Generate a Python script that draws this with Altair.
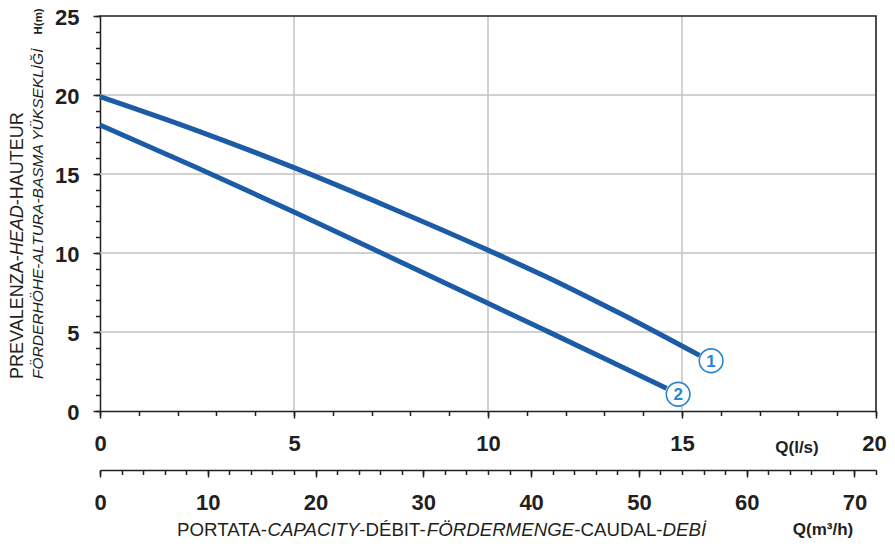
import altair as alt
import pandas as pd

# ---------------- data ----------------
curve1_q = [0, 2.5, 5, 7.5, 10, 11.5, 12.5, 13.5, 15.45]
curve1_h = [19.9, 17.75, 15.4, 12.85, 10.18, 8.5, 7.3, 6.06, 3.52]
curve2_q = [0, 2.5, 5, 7.5, 10, 11.5, 13, 14.6]
curve2_h = [18.1, 15.4, 12.6, 9.72, 6.82, 5.08, 3.33, 1.44]

tag_names = ["1", "2"]
tag_q = [15.75, 14.9]
tag_h = [3.18, 1.06]

ls_major = [0, 5, 10, 15, 20]
ls_minor = list(range(0, 21))
m3h_major = [0, 10, 20, 30, 40, 50, 60, 70]
m3h_minor = list(range(0, 73, 2))
h_major = [0, 5, 10, 15, 20, 25]
h_minor = list(range(0, 26))

q_max, h_max, m3h_max = 20, 25, 72

x_title_parts = [("PORTATA-", "normal"), ("CAPACITY", "italic"), ("-DÉBIT-", "normal"),
                 ("FÖRDERMENGE", "italic"), ("-CAUDAL-", "normal"), ("DEBİ", "italic")]
y_title1_parts = [("PREVALENZA-", "normal"), ("HEAD", "italic"), ("-HAUTEUR", "normal")]
y_title2 = "FÖRDERHÖHE-ALTURA-BASMA YÜKSEKLİĞİ"

# ---------------- layout / style ----------------
X0, Y0 = 100, 11          # page position of the view's top-left corner
VW, VH = 784, 400         # view size (a little larger than the plot frame)
PW, PTOP = 776, 5         # plot frame width, and its top inside the view
FONT = "Liberation Sans"
INK = "#231f20"
LINE_BLUE = "#1c5ba6"
TAG_BLUE = "#2b86cc"
GRID = "#c2c2c2"

ARIAL_W = {'A': 667, 'B': 667, 'C': 722, 'D': 722, 'E': 667, 'F': 611, 'G': 778, 'H': 722,
           'I': 278, 'K': 667, 'L': 556, 'M': 833, 'N': 722, 'O': 778, 'P': 667, 'R': 722,
           'S': 667, 'T': 611, 'U': 722, 'V': 667, 'Y': 667, 'Z': 611, '-': 333, ' ': 278,
           'É': 667, 'Ö': 778, 'Ü': 722, 'İ': 278, 'Ğ': 778}
KERN = {"TA": -74, "AT": -74, "AV": -74, "VA": -74, "AY": -74, "YA": -74, "LT": -74,
        "TY": -18, "PA": -74, "FA": -74, "LY": -74}


def text_width(s, size):
    w = sum(ARIAL_W.get(c, 600) for c in s)
    w += sum(KERN.get(s[i:i + 2], 0) for i in range(len(s) - 1))
    return w / 1000.0 * size


xs = alt.Scale(domain=[0, q_max], range=[0, PW], nice=False, zero=False)
ys = alt.Scale(domain=[0, h_max], range=[VH, PTOP], nice=False, zero=False)
xm = alt.Scale(domain=[0, m3h_max], range=[0, PW], nice=False, zero=False)

common = dict(labelFont=FONT, labelFontWeight="bold", labelFontSize=22, labelColor=INK,
              tickColor=INK, tickWidth=1.5, domainColor=INK, domainWidth=1.5, title=None,
              labelOverlap=False, labelFlush=False, labelBound=False, format="d")

curves_df = pd.DataFrame({
    "q": curve1_q + curve2_q,
    "h": curve1_h + curve2_h,
    "curve": ["1"] * len(curve1_q) + ["2"] * len(curve2_q),
})
tags_df = pd.DataFrame({"q": tag_q, "h": tag_h, "name": tag_names})

# gridlines (drawn as rules so they stop at the plot frame)
hgrid_df = pd.DataFrame({"h": [v for v in h_major if 0 < v < h_max]})
hgrid_df["q0"], hgrid_df["q1"] = 0, q_max
vgrid_df = pd.DataFrame({"q": [v for v in ls_major if 0 < v < q_max]})
vgrid_df["h0"], vgrid_df["h1"] = 0, h_max

hgrid = alt.Chart(hgrid_df).mark_rule(color=GRID, strokeWidth=1.5).encode(
    y=alt.Y("h:Q", scale=ys, axis=None),
    x=alt.X("q0:Q", scale=xs, axis=None), x2="q1:Q")
vgrid = alt.Chart(vgrid_df).mark_rule(color=GRID, strokeWidth=1.5).encode(
    x=alt.X("q:Q", scale=xs, axis=None),
    y=alt.Y("h0:Q", scale=ys, axis=None), y2="h1:Q")

# frame: top and right edges
frame_df = pd.DataFrame({"q": [0, q_max, q_max], "h": [h_max, h_max, 0], "o": [0, 1, 2]})
frame = alt.Chart(frame_df).mark_line(color=INK, strokeWidth=1.6, strokeCap="square").encode(
    x=alt.X("q:Q", scale=xs, axis=None),
    y=alt.Y("h:Q", scale=ys, axis=None),
    order="o:Q",
)

# axis-only layers
major_axes = alt.Chart(curves_df).mark_point(opacity=0).encode(
    x=alt.X("q:Q", scale=xs, axis=alt.Axis(values=ls_major, tickSize=7, labelPadding=15,
                                           labelOffset={"condition": {"test": "datum.value == 20", "value": -2}, "value": 0},
                                           grid=False, orient="bottom", **common)),
    y=alt.Y("h:Q", scale=ys, axis=alt.Axis(values=h_major, tickSize=7, labelPadding=14,
                                           labelOffset=1.5, grid=False, orient="left", **common)),
)
minor_axes = alt.Chart(curves_df).mark_point(opacity=0).encode(
    x=alt.X("q:Q", scale=xs, axis=alt.Axis(values=ls_minor, tickSize=4.5, labels=False,
                                           grid=False, domain=False, orient="bottom", **common)),
    y=alt.Y("h:Q", scale=ys, axis=alt.Axis(values=h_minor, tickSize=4.5, labels=False,
                                           grid=False, domain=False, orient="left", **common)),
)
m3_df = pd.DataFrame({"qm": m3h_minor})
m3_major = alt.Chart(m3_df).mark_point(opacity=0).encode(
    x=alt.X("qm:Q", scale=xm, axis=alt.Axis(values=m3h_major, tickSize=7, labelPadding=15,
                                            offset=59, grid=False, orient="bottom", **common)),
)
m3_minor = alt.Chart(m3_df).mark_point(opacity=0).encode(
    x=alt.X("qm:Q", scale=xm, axis=alt.Axis(values=m3h_minor, tickSize=4.5, labels=False,
                                            offset=59, grid=False, domain=False,
                                            orient="bottom", **common)),
)

lines = alt.Chart(curves_df).mark_line(
    color=LINE_BLUE, strokeWidth=5, interpolate="monotone", strokeCap="butt"
).encode(
    x=alt.X("q:Q", scale=xs, axis=None),
    y=alt.Y("h:Q", scale=ys, axis=None),
    detail="curve:N",
)
tag_circles = alt.Chart(tags_df).mark_point(
    shape="circle", size=560, filled=True, fill="white", stroke=TAG_BLUE, strokeWidth=1.6, opacity=1
).encode(
    x=alt.X("q:Q", scale=xs, axis=None),
    y=alt.Y("h:Q", scale=ys, axis=None),
)
tag_text = alt.Chart(tags_df).mark_text(
    font=FONT, fontWeight="bold", fontSize=17, color=TAG_BLUE, baseline="middle", dy=1
).encode(
    x=alt.X("q:Q", scale=xs, axis=None),
    y=alt.Y("h:Q", scale=ys, axis=None),
    text="name:N",
)


def label(text, x, y, size, weight="normal", style="normal", align="left", angle=0):
    return alt.Chart(pd.DataFrame({"t": [text]})).mark_text(
        font=FONT, fontSize=size, fontWeight=weight, fontStyle=style, color=INK,
        align=align, baseline="alphabetic", angle=angle,
    ).encode(text="t:N", x=alt.value(x), y=alt.value(y))


annotations = []
# bottom title, mixed upright / italic
fs_x = 18.7
cx = 177 - X0
for txt, st in x_title_parts:
    annotations.append(label(txt, cx, 536 - Y0, fs_x, style=st))
    cx += text_width(txt, fs_x)

# unit labels
annotations.append(label("Q(l/s)", 797 - X0, 452.5 - Y0, 17, weight="bold", align="center"))
annotations.append(label("Q(m³/h)", 823 - X0, 534.5 - Y0, 17, weight="bold", align="center"))

# y title, rotated
fs_y1 = 18
cy = 379 - Y0
for txt, st in y_title1_parts:
    annotations.append(label(txt, 22.5 - X0, cy, fs_y1, style=st, angle=270))
    cy -= text_width(txt, fs_y1)
annotations.append(label(y_title2, 42.5 - X0, 379 - Y0, 15.5, style="italic", angle=270))
annotations.append(label("H(m)", 41.5 - X0, 34.5 - Y0, 11.5, weight="bold", angle=270))

chart = alt.layer(
    hgrid, vgrid, major_axes, minor_axes, m3_major, m3_minor, frame,
    lines, tag_circles, tag_text, *annotations
).resolve_scale(
    x="independent", y="independent"
).properties(
    width=VW, height=VH, autosize="none", background="white",
    padding={"left": X0 - 8, "top": Y0 - 8, "right": 879 - (X0 - 8) - VW,
             "bottom": 531 - (Y0 - 8) - VH},
).configure_view(
    strokeOpacity=0
)

chart.save("out.html", embed_options={"renderer": "svg", "actions": False})
